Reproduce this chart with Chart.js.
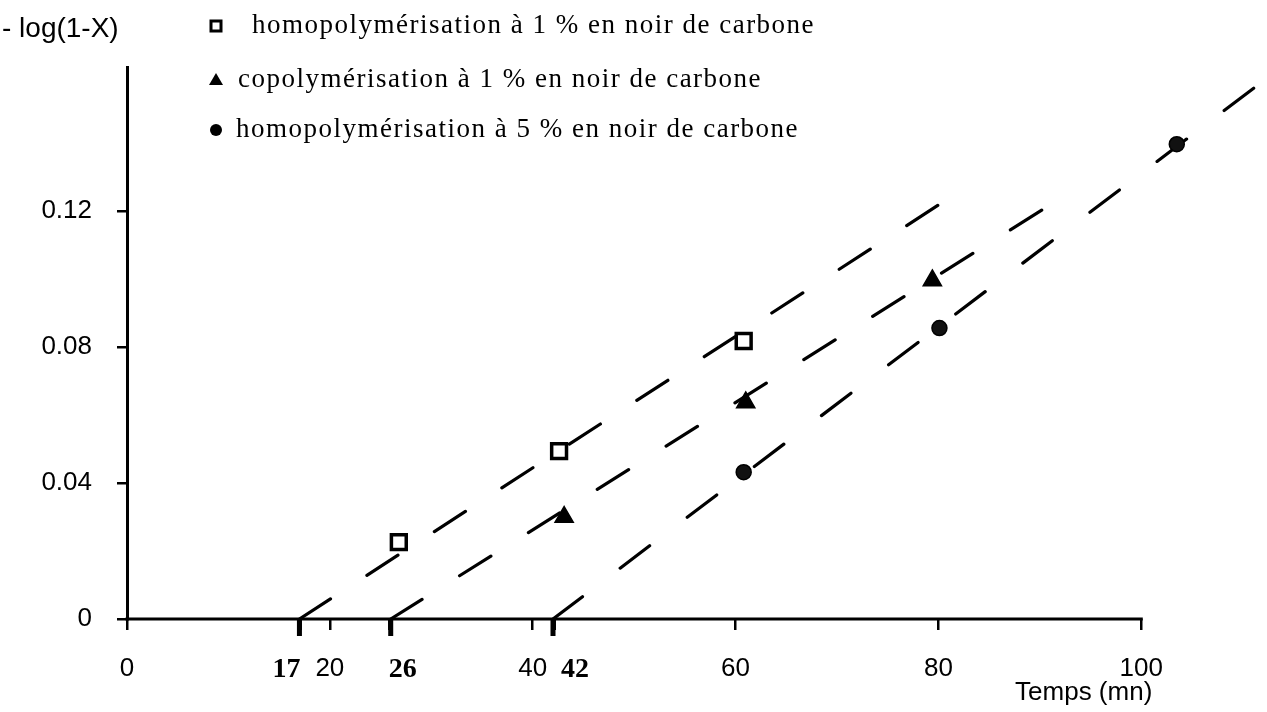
<!DOCTYPE html>
<html lang="fr">
<head>
<meta charset="utf-8">
<title>Cinétique de polymérisation</title>
<script src="https://cdn.jsdelivr.net/npm/chart.js@4.4.1/dist/chart.umd.min.js"></script>
<style>
  html, body { margin: 0; padding: 0; background: #fff; }
  #wrap { width: 1267px; height: 712px; }
</style>
</head>
<body>
<div id="wrap"><canvas id="kinetics"></canvas></div>
<script>
// graduations
const xTicks = [0, 17, 20, 26, 40, 42, 60, 80, 100]
const inductionTicks = [17, 26, 42]
const yTicks = [0, 0.04, 0.08, 0.12]

const seriesNames = [
  "homopolymérisation à 1 % en noir de carbone",
  "copolymérisation à 1 % en noir de carbone",
  "homopolymérisation à 5 % en noir de carbone"
]

// temps (mn) / -log(1-X) mesurés
const homo1Time = [26.8, 42.6, 60.8]
const homo1Value = [0.0226, 0.0494, 0.0818]
const copo1Time = [43.1, 61.0, 79.4]
const copo1Value = [0.0300, 0.0637, 0.0996]
const homo5Time = [60.8, 80.1, 103.5]
const homo5Value = [0.0432, 0.0856, 0.1397]

// droites : départ au temps d'induction, puis extrémité du tracé
const fitStart = [17, 26, 42]
const fitEndTime = [80.0, 90.2, 111.1]
const fitEndValue = [0.1218, 0.1203, 0.1562]

const INK = "#000"
const SANS = '"Liberation Sans", Arial, sans-serif'
const SERIF = '"Liberation Serif", "Times New Roman", serif'

// tirets de chaque droite, pour finir sur un trait plein
const fitDash = [[37, 43.4], [37, 44.3], [37, 47.2]]

const toPoints = (xs, ys) => xs.map((x, i) => ({ x: x, y: ys[i] }))

const fitLine = (i) => ({
  type: "line",
  data: [{ x: fitStart[i], y: 0 }, { x: fitEndTime[i], y: fitEndValue[i] }],
  borderColor: INK,
  borderWidth: 3.2,
  borderDash: fitDash[i],
  borderCapStyle: "round",
  pointRadius: 0,
  fill: false
})

// légende, titres d'axes, axe des temps limité à 100 et temps d'induction en gras
const labelShift = [-13, 12, 22]
const legendRowY = [26, 80, 130]
const legendTextX = [252, 238, 236]

const drawMarker = (ctx, kind, x, y) => {
  ctx.beginPath()
  if (kind === 0) {
    ctx.lineWidth = 3
    ctx.strokeRect(x - 5, y - 5, 10, 10)
    return
  }
  if (kind === 1) {
    ctx.moveTo(x, y - 7)
    ctx.lineTo(x + 7, y + 5)
    ctx.lineTo(x - 7, y + 5)
    ctx.closePath()
  } else {
    ctx.arc(x, y, 6, 0, Math.PI * 2)
  }
  ctx.fill()
}

const decor = {
  id: "decor",
  afterDraw(chart) {
    const ctx = chart.ctx
    const xs = chart.scales.x
    const base = chart.chartArea.bottom
    const x0 = xs.getPixelForValue(0)
    const x100 = xs.getPixelForValue(100)
    ctx.save()
    ctx.fillStyle = INK
    ctx.strokeStyle = INK

    ctx.fillRect(x0 - 1.5, base - 1.5, x100 - x0 + 3, 3)

    ctx.font = "bold 28px " + SERIF
    ctx.textAlign = "center"
    ctx.textBaseline = "alphabetic"
    inductionTicks.forEach((v, i) => {
      const px = xs.getPixelForValue(v)
      ctx.fillRect(px - 2.5, base, 5, 17)
      ctx.fillText(String(v), px + labelShift[i], 677)
    })

    ctx.font = "26px " + SANS
    ctx.textAlign = "right"
    ctx.fillText("Temps (mn)", x100 + 11, 700)

    ctx.font = "28px " + SANS
    ctx.textAlign = "left"
    ctx.fillText("- log(1-X)", 2, 37)

    ctx.font = "27px " + SERIF
    ctx.letterSpacing = "1.5px"
    seriesNames.forEach((name, i) => {
      drawMarker(ctx, i, 216, legendRowY[i])
      ctx.fillText(name, legendTextX[i], legendRowY[i] + 7)
    })
    ctx.restore()
  }
}

const ctx = document.getElementById("kinetics")

const config = {
  type: "scatter",
  data: {
    datasets: [
      {
        label: seriesNames[0],
        data: toPoints(homo1Time, homo1Value),
        pointStyle: "rect",
        pointRadius: 10.5,
        pointBorderWidth: 3.5,
        pointBackgroundColor: "#fff",
        pointBorderColor: INK
      },
      {
        label: seriesNames[1],
        data: toPoints(copo1Time, copo1Value),
        pointStyle: "triangle",
        pointRadius: 10.5,
        pointBorderWidth: 1.5,
        pointBackgroundColor: INK,
        pointBorderColor: INK
      },
      {
        label: seriesNames[2],
        data: toPoints(homo5Time, homo5Value),
        pointStyle: "circle",
        pointRadius: 7.5,
        pointBorderWidth: 1.5,
        pointBackgroundColor: "#111",
        pointBorderColor: INK
      },
      fitLine(0),
      fitLine(1),
      fitLine(2)
    ]
  },
  options: {
    responsive: true,
    maintainAspectRatio: false,
    animation: false,
    events: [],
    layout: {
      autoPadding: false,
      padding: { top: 67, right: 4, left: 0, bottom: 0 }
    },
    plugins: {
      legend: { display: false },
      tooltip: { enabled: false }
    },
    scales: {
      x: {
        type: "linear",
        min: 0,
        max: 112,
        afterFit: (scale) => {
          scale.height = 93
          scale.paddingLeft = 0
          scale.paddingRight = 0
        },
        afterBuildTicks: (scale) => { scale.ticks = xTicks.map(v => ({ value: v })) },
        border: { display: false },
        grid: {
          drawOnChartArea: false,
          drawTicks: true,
          tickLength: 11,
          color: INK,
          lineWidth: (c) => inductionTicks.includes(c.tick && c.tick.value) ? 5 : 2.5
        },
        ticks: {
          autoSkip: false,
          maxRotation: 0,
          minRotation: 0,
          padding: 23,
          color: INK,
          font: { family: SANS, size: 26 },
          callback: (v) => inductionTicks.includes(v) ? "" : String(v)
        }
      },
      y: {
        type: "linear",
        min: 0,
        max: 0.1624,
        afterFit: (scale) => { scale.width = 127 },
        afterBuildTicks: (scale) => { scale.ticks = yTicks.map(v => ({ value: v })) },
        border: { display: true, color: INK, width: 3 },
        grid: {
          drawOnChartArea: false,
          drawTicks: true,
          tickLength: 10,
          color: INK,
          lineWidth: 2.5
        },
        ticks: {
          padding: 25,
          color: INK,
          font: { family: SANS, size: 26 },
          callback: (v) => String(v)
        }
      }
    }
  },
  plugins: [decor]
}

new Chart(ctx, config)
</script>
</body>
</html>
